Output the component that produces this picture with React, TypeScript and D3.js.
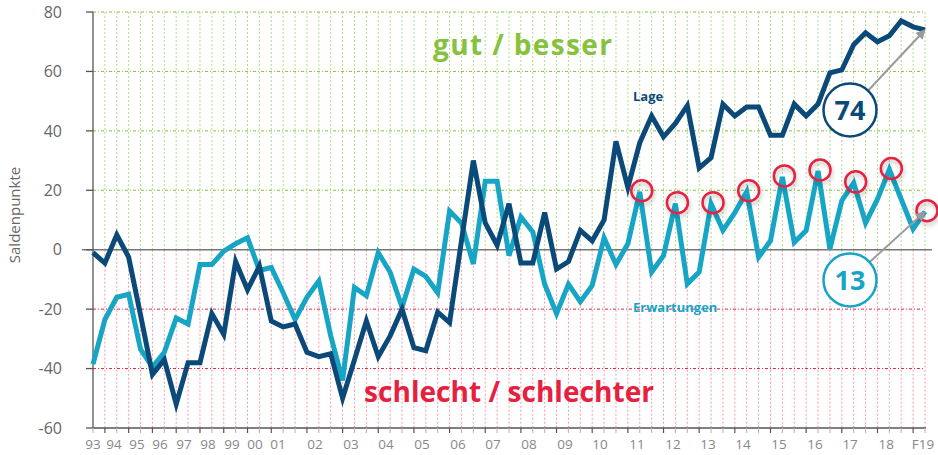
import React from "react";
import * as d3 from "d3";

const lage: number[] = [
  -1, -4.5, 5, -2.5, -22, -42, -37, -52, -38, -38, -21.5, -28.5, -4, -13.5, -5.5,
  -24, -26, -25, -34.5, -36, -35, -50, -37, -24, -36, -29, -20, -33, -34, -21,
  -24.5, 3, 30, 9, 1.5, 15.5, -4.5, -4.5, 12.5, -6.5, -4, 6.5, 3, 10, 36.5,
  21, 36, 45, 38, 42.5, 48.5, 27.5, 31, 49, 45, 48, 48, 38.5, 38.5, 49,
  45, 49, 59.5, 60.5, 69, 73, 70, 72, 77, 75, 74,
];

const erwartungen: number[] = [
  -38.5, -23.5, -16, -15, -33.5, -39.5, -34.5, -23, -25, -5, -5, -0.5, 2, 4, -7,
  -6, -14.5, -23.5, -16, -10.5, -29, -44, -12.7, -15.5, -1, -7.6, -19.4, -6.5, -9, -14.5,
  13, 9, -4.8, 23, 23, -2, 11, 6, -11.6, -21.5, -11.6, -17.5, -12, 4, -5,
  2, 19.5, -7.5, -2, 15.5, -11.5, -7.5, 15.5, 6.5, 12.5, 19.5, -2.5, 3, 24.5, 2.5,
  6.5, 26.5, 0.3, 16.5, 22.5, 9, 17, 27, 17, 7, 12.8,
];

const yTicks: number[] = [80, 60, 40, 20, 0, -20, -40, -60];
const xTickLabels: string[] = [
  "93", "94", "95", "96", "97", "98", "99", "00", "01", "02", "03", "04", "05", "06",
  "07", "08", "09", "10", "11", "12", "13", "14", "15", "16", "17", "18", "F19",
];
const xTickPos: number[] = [
  0, 1.77, 3.7, 5.64, 7.66, 9.68, 11.69, 13.63, 15.56, 18.68, 21.71, 24.65, 27.68, 30.71,
  33.65, 36.68, 39.71, 42.66, 45.77, 48.8, 51.74, 54.69, 57.72, 60.75, 63.7, 66.73, 69.83,
];
const majorTicks: number[] = [
  1, 3, 5, 7, 9, 11, 13, 15, 18, 21, 24, 27, 30, 33, 36, 39, 42, 45, 48, 51, 54, 57, 60, 63, 66, 69,
];
const circledPoints: number[] = [46, 49, 52, 55, 58, 61, 64, 67, 70];

const DARK = "#0b4a78";
const LIGHT = "#17a5c6";
const GREEN = "#86c23d";
const RED = "#e5213f";
const FONT = "'Open Sans', Lato, sans-serif";

export default function App() {
  const x = d3.scaleLinear().domain([0, 70]).range([93, 925]);
  const y = d3.scaleLinear().domain([-60, 80]).range([428, 12]);
  const n = lage.length;
  const idx = d3.range(n);

  const line = d3
    .line<number>()
    .x((_, i) => x(i))
    .y((d) => y(d));

  const y0 = y(0);
  const lastI = n - 1;
  const lastL = lage[lastI];
  const lastE = erwartungen[lastI];

  const arrow = (cx: number, cy: number, r: number, tx: number, ty: number) => {
    const dx = tx - cx;
    const dy = ty - cy;
    const len = Math.sqrt(dx * dx + dy * dy);
    const ux = dx / len;
    const uy = dy / len;
    return {
      x1: cx + ux * r,
      y1: cy + uy * r,
      x2: tx - ux * 4,
      y2: ty - uy * 4,
    };
  };

  const c74 = { cx: 850, cy: 110 };
  const c13 = { cx: 850, cy: 280 };
  const a74 = arrow(c74.cx, c74.cy, 27, x(lastI), y(lastL));
  const a13 = arrow(c13.cx, c13.cy, 27, x(lastI), y(lastE));

  return (
    <svg
      width={938}
      height={455}
      style={{ position: "absolute", left: 0, top: 0, background: "#fff" }}
      fontFamily={FONT}
    >
      <defs>
        <marker
          id="arrowHead"
          viewBox="0 0 10 10"
          refX="5"
          refY="5"
          markerWidth="5"
          markerHeight="5"
          orient="auto"
        >
          <path d="M0,0 L10,5 L0,10 z" fill="#9a9a9a" />
        </marker>
        <filter id="shadow" x="-50%" y="-50%" width="200%" height="200%">
          <feDropShadow dx="1" dy="3" stdDeviation="2" floodColor="#000" floodOpacity="0.25" />
        </filter>
      </defs>

      {/* vertical grid */}
      {idx.slice(1).map((i) => (
        <g key={"vg" + i}>
          <line
            x1={x(i)}
            x2={x(i)}
            y1={y(80)}
            y2={y0}
            stroke={GREEN}
            strokeOpacity={0.6}
            strokeWidth={1}
            strokeDasharray="2,2"
          />
          <line
            x1={x(i)}
            x2={x(i)}
            y1={y0}
            y2={y(-60)}
            stroke={RED}
            strokeOpacity={0.45}
            strokeWidth={1}
            strokeDasharray="2,2"
          />
        </g>
      ))}

      {/* horizontal grid */}
      {yTicks
        .filter((t) => t !== 0 && t !== -60)
        .map((t) => (
          <line
            key={"hg" + t}
            x1={x(0)}
            x2={x(70)}
            y1={y(t)}
            y2={y(t)}
            stroke={t > 0 ? GREEN : RED}
            strokeWidth={1}
            strokeDasharray="3,2,1,2"
          />
        ))}

      {/* zero line */}
      <line x1={82} x2={932} y1={y0} y2={y0} stroke="#777" strokeWidth={1.6} />

      {/* y axis */}
      <line x1={x(0)} x2={x(0)} y1={y(80)} y2={y(-60)} stroke="#555" strokeWidth={1.3} />
      {yTicks.map((t) => (
        <g key={"yt" + t}>
          <line x1={86} x2={x(0)} y1={y(t)} y2={y(t)} stroke="#555" strokeWidth={1.3} />
          <text
            x={62}
            y={y(t)}
            dy="0.36em"
            textAnchor="end"
            fontSize={16}
            fill="#666"
          >
            {t}
          </text>
        </g>
      ))}
      <text
        transform={`translate(20,215) rotate(-90)`}
        textAnchor="middle"
        fontSize={15}
        fill="#666"
      >
        Saldenpunkte
      </text>

      {/* x axis */}
      <line x1={x(0)} x2={x(70) + 1} y1={y(-60)} y2={y(-60)} stroke="#555" strokeWidth={1.3} />
      {idx.map((i) => (
        <line
          key={"xt" + i}
          x1={x(i)}
          x2={x(i)}
          y1={y(-60)}
          y2={y(-60) + 5}
          stroke={majorTicks.includes(i) ? "#555" : "#bbb"}
          strokeWidth={1.2}
        />
      ))}
      {xTickLabels.map((l, k) => (
        <text
          key={"xl" + l}
          x={x(xTickPos[k])}
          y={449}
          textAnchor="middle"
          fontSize={13.5}
          fill="#888"
        >
          {l}
        </text>
      ))}

      {/* zone labels */}
      <text
        x={433}
        y={55}
        fontSize={28}
        fontWeight={700}
        fill={GREEN}
        textLength={179}
        lengthAdjust="spacing"
      >
        gut / besser
      </text>
      <text
        x={364}
        y={402}
        fontSize={28}
        fontWeight={700}
        fill={RED}
        textLength={290}
        lengthAdjust="spacing"
      >
        schlecht / schlechter
      </text>

      {/* lines */}
      <path
        d={line(erwartungen) || ""}
        fill="none"
        stroke={LIGHT}
        strokeWidth={5}
        strokeLinejoin="miter"
      />
      <path
        d={line(lage) || ""}
        fill="none"
        stroke={DARK}
        strokeWidth={5}
        strokeLinejoin="miter"
      />

      {/* series labels */}
      <text x={633} y={101} fontSize={13} fontWeight={700} fill={DARK}>
        Lage
      </text>
      <text x={633} y={312} fontSize={13} fontWeight={700} fill={LIGHT}>
        Erwartungen
      </text>

      {/* red circles */}
      {circledPoints.map((i) => (
        <circle
          key={"rc" + i}
          cx={x(i) + 2}
          cy={y(erwartungen[i]) - 1}
          r={10.5}
          fill="none"
          stroke={RED}
          strokeWidth={2.5}
          filter="url(#shadow)"
        />
      ))}

      {/* arrows */}
      <line
        {...a74}
        stroke="#9a9a9a"
        strokeWidth={2}
        markerEnd="url(#arrowHead)"
      />
      <line
        {...a13}
        stroke="#9a9a9a"
        strokeWidth={2}
        markerEnd="url(#arrowHead)"
      />

      {/* value badges */}
      <circle cx={c74.cx} cy={c74.cy} r={26.5} fill="#fff" stroke={DARK} strokeWidth={2.5} />
      <text
        x={c74.cx}
        y={c74.cy}
        dy="0.36em"
        textAnchor="middle"
        fontSize={27}
        fontWeight={700}
        fill={DARK}
      >
        {Math.round(lastL)}
      </text>
      <circle cx={c13.cx} cy={c13.cy} r={26.5} fill="#fff" stroke={LIGHT} strokeWidth={2.5} />
      <text
        x={c13.cx}
        y={c13.cy}
        dy="0.36em"
        textAnchor="middle"
        fontSize={27}
        fontWeight={700}
        fill={LIGHT}
      >
        {Math.round(lastE)}
      </text>
    </svg>
  );
}
